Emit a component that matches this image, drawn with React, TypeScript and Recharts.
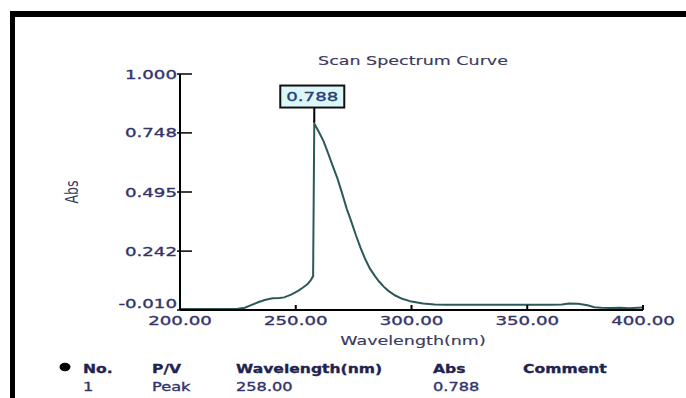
import React from "react";
import { LineChart, Line, XAxis, YAxis, ReferenceDot } from "recharts";

// ---- data ----
const wavelengths = [
  200, 210, 220, 225, 228, 231, 234, 237, 240, 243, 245, 248, 251, 253, 255, 256.5, 257.5, 258,
  260, 262, 264, 266, 268, 270, 272, 274, 276, 278, 280, 282, 284, 286, 288, 290, 293, 296, 300,
  305, 310, 315, 320, 330, 340, 350, 360, 365, 368, 372, 376, 379, 382, 386, 390, 394, 398, 400,
];
const absValues = [
  -0.006, -0.006, -0.006, -0.005, 0.0, 0.012, 0.024, 0.034, 0.04, 0.041, 0.044, 0.056, 0.072, 0.085, 0.1, 0.118, 0.135, 0.788,
  0.752, 0.713, 0.66, 0.606, 0.553, 0.49, 0.424, 0.368, 0.31, 0.256, 0.208, 0.168, 0.138, 0.112, 0.09, 0.072, 0.052, 0.038, 0.026,
  0.018, 0.014, 0.013, 0.012, 0.012, 0.012, 0.012, 0.012, 0.014, 0.018, 0.017, 0.01, 0.002, 0.0, -0.001, 0.0, -0.002, 0.0, 0.001,
];
const xTicks = [200, 250, 300, 350, 400];
const yTicks = [-0.01, 0.242, 0.495, 0.748, 1.0];
const peakWavelength = 258.0;
const peakAbs = 0.788;
const tableHeader = ["No.", "P/V", "Wavelength(nm)", "Abs", "Comment"];
const tableRow = ["1", "Peak", "258.00", "0.788", ""];

const chartData = wavelengths.map((wl, i) => ({ wl, abs: absValues[i] }));

const FONT = "DejaVu Sans";
const LABEL = "#34346a";
const SX = 1.4;

const SText = ({ x, y, children, size = 13, weight = "normal", anchor = "start", fill = LABEL, sx = SX, thick = 0.35 }: any) => (
  <text
    x={0}
    y={0}
    transform={`translate(${x},${y}) scale(${sx},1)`}
    textAnchor={anchor}
    fontFamily={FONT}
    fontSize={size}
    fontWeight={weight}
    fill={fill}
    stroke={thick > 0 ? fill : "none"}
    strokeWidth={thick}
  >
    {children}
  </text>
);

const XTick = (props: any) => {
  const { x, y, payload } = props;
  return (
    <g>
      <line x1={x} y1={y} x2={x} y2={y - 5} stroke="#000" strokeWidth={2} />
      <SText x={x} y={y + 14.5} anchor="middle">
        {Number(payload.value).toFixed(2)}
      </SText>
    </g>
  );
};

const YTick = (props: any) => {
  const { x, y, payload } = props;
  const v = Number(payload.value);
  const dy = v === yTicks[0] ? -7 : 0;
  return (
    <g>
      <line x1={x - 3} y1={y} x2={x + 12} y2={y} stroke="#000" strokeWidth={1.5} />
      <SText x={x - 3} y={y + dy + 4.5} anchor="end">
        {v.toFixed(3)}
      </SText>
    </g>
  );
};

const PeakMarker = (props: any) => {
  const { cx, cy } = props;
  const w = 64;
  const h = 22;
  const bottom = cy - 16;
  return (
    <g>
      <line x1={cx} y1={cy - 1} x2={cx} y2={bottom} stroke="#000" strokeWidth={2} />
      <rect x={cx - 34} y={bottom - h} width={w} height={h} fill="#dcf7fa" stroke="#111" strokeWidth={2} />
      <SText x={cx - 2} y={bottom - 6.5} anchor="middle" fill="#2a4070">
        {peakAbs.toFixed(3)}
      </SText>
    </g>
  );
};

const tableCols = [83, 152, 236, 433, 523];

export default function App() {
  return (
    <div style={{ position: "absolute", left: 0, top: 0, width: 686, height: 398, background: "#fff", overflow: "hidden" }}>
      <div
        style={{
          position: "absolute",
          left: 10,
          top: 11,
          width: 676,
          height: 387,
          borderTop: "6px solid #000",
          borderLeft: "5px solid #000",
          boxSizing: "border-box",
        }}
      />
      <div style={{ position: "absolute", left: 0, top: 0 }}>
        <LineChart width={686} height={398} data={chartData} margin={{ top: 74, right: 43, bottom: 58, left: 110 }}>
          <XAxis
            type="number"
            dataKey="wl"
            domain={[200, 400]}
            ticks={xTicks}
            height={30}
            tickSize={0}
            tickMargin={0}
            tickLine={false}
            axisLine={{ stroke: "#000", strokeWidth: 2 }}
            tick={<XTick />}
            interval={0}
          />
          <YAxis
            type="number"
            domain={[-0.01, 1.0]}
            ticks={yTicks}
            width={70}
            tickSize={0}
            tickMargin={0}
            tickLine={false}
            axisLine={{ stroke: "#000", strokeWidth: 2 }}
            tick={<YTick />}
            interval={0}
          />
          <Line
            type="linear"
            dataKey="abs"
            stroke="#2d5858"
            strokeWidth={2}
            dot={false}
            isAnimationActive={false}
          />
          <ReferenceDot x={peakWavelength} y={peakAbs} r={0} shape={<PeakMarker />} />
          <SText x={413} y={64.5} anchor="middle" size={12.5} fill="#3a3a5e" thick={0.15}>
            Scan Spectrum Curve
          </SText>
          <SText x={413} y={344.5} anchor="middle" size={12.5} fill="#3a3a5e" thick={0.15}>
            Wavelength(nm)
          </SText>
          <text
            transform={`translate(78,192) scale(1.4,1) rotate(-90)`}
            textAnchor="middle"
            fontFamily={FONT}
            fontSize={12.5}
            fill="#3a3a5e"
          >
            Abs
          </text>
          <ellipse cx={65} cy={367} rx={5.5} ry={4.2} fill="#000" />
          {tableHeader.map((t, i) => (
            <SText key={"h" + i} x={tableCols[i]} y={372.5} size={12} weight="bold" fill="#22224e" sx={1.3} thick={0.3}>
              {t}
            </SText>
          ))}
          {tableRow.map((t, i) => (
            <SText key={"r" + i} x={tableCols[i]} y={390.5} size={12} fill="#34346a" sx={1.35}>
              {t}
            </SText>
          ))}
        </LineChart>
      </div>
    </div>
  );
}
